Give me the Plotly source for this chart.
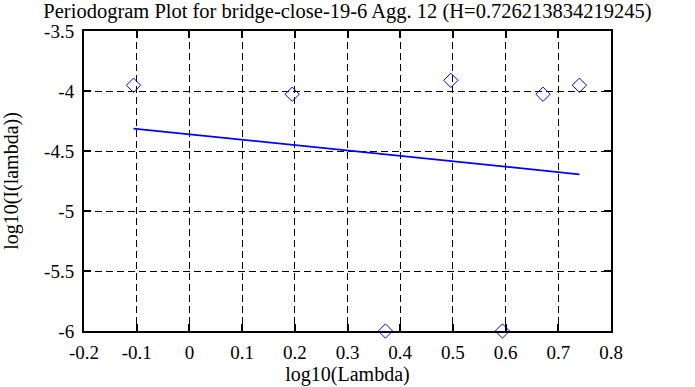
import plotly.graph_objects as go

title_text = "Periodogram Plot for bridge-close-19-6 Agg. 12 (H=0.726213834219245)"
log_lambda = [-0.106, 0.195, 0.372, 0.496, 0.594, 0.671, 0.740]
log_I = [-3.952, -4.027, -6.0, -3.911, -6.0, -4.027, -3.952]
fit_x = [-0.106, 0.740]
fit_y = [-4.313, -4.694]
x_ticks = [-0.2, -0.1, 0, 0.1, 0.2, 0.3, 0.4, 0.5, 0.6, 0.7, 0.8]
x_tick_text = ["-0.2", "-0.1", "0", "0.1", "0.2", "0.3", "0.4", "0.5", "0.6", "0.7", "0.8"]
y_ticks = [-6, -5.5, -5, -4.5, -4, -3.5]
y_tick_text = ["-6", "-5.5", "-5", "-4.5", "-4", "-3.5"]

font_fam = "Liberation Serif"

fig = go.Figure()
fig.add_trace(go.Scatter(x=log_lambda, y=log_I, mode="markers",
                         marker=dict(symbol="diamond-open", size=11, color="#0000ff",
                                     line=dict(width=1, color="#0000ff")),
                         cliponaxis=False, showlegend=False))
fig.add_trace(go.Scatter(x=fit_x, y=fit_y, mode="lines",
                         line=dict(color="#0000ff", width=1.8), showlegend=False))

axis_common = dict(showline=True, linecolor="black", linewidth=2, mirror="ticks",
                   ticks="inside", ticklen=7, tickwidth=1.5, tickcolor="black",
                   showgrid=True, gridcolor="black", gridwidth=1, griddash="7px,4px",
                   zeroline=False, automargin=False,
                   tickfont=dict(family=font_fam, size=19, color="black"))

fig.update_layout(
    width=695, height=387,
    margin=dict(l=84, r=84, t=31, b=56, autoexpand=False),
    paper_bgcolor="white", plot_bgcolor="white",
    title=dict(text=title_text, x=0.5, xanchor="center", y=0.972, yanchor="middle",
               automargin=False,
               font=dict(family=font_fam, size=20.5, color="black")),
    xaxis=dict(range=[-0.2, 0.8], tickvals=x_ticks, ticktext=x_tick_text,
               title=dict(text="log10(Lambda)", standoff=1,
                          font=dict(family=font_fam, size=20, color="black")),
               ticklabelstandoff=3, **axis_common),
    yaxis=dict(range=[-6, -3.5], tickvals=y_ticks, ticktext=y_tick_text,
               title=dict(text="log10(I(lambda))", standoff=22,
                          font=dict(family=font_fam, size=20, color="black")),
               ticklabelstandoff=4, **axis_common),
)

fig.write_html("out.html", config={"displayModeBar": False},
               post_script="document.body.style.margin='0';document.body.style.padding='0';")
